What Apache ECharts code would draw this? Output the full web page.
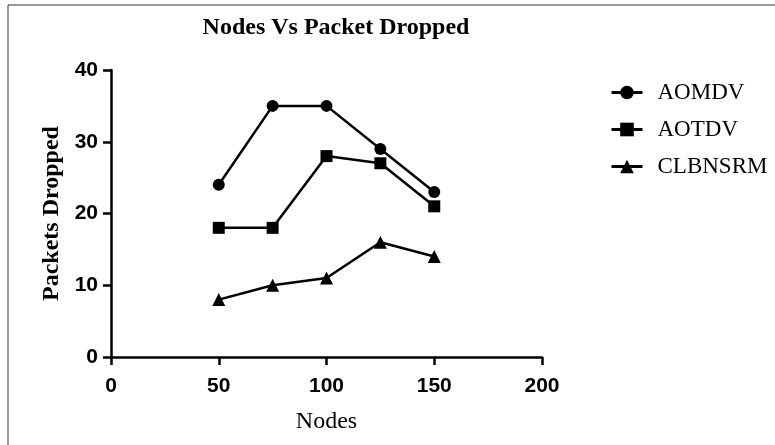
<!DOCTYPE html>
<html><head><meta charset="utf-8">
<script src="https://cdn.jsdelivr.net/npm/echarts@6/dist/echarts.min.js"></script>
<style>html,body{margin:0;padding:0;background:#fff}#c{width:775px;height:445px}</style>
</head><body><div id="c"></div>
<script>
const nodes = [50, 75, 100, 125, 150];
const aomdv = [24, 35, 35, 29, 23];
const aotdv = [18, 18, 28, 27, 21];
const clbnsrm = [8, 10, 11, 16, 14];
const seriesNames = ['AOMDV', 'AOTDV', 'CLBNSRM'];
const symbols = ['circle', 'rect', 'triangle'];
const dataSets = [aomdv, aotdv, clbnsrm];

const chart = echarts.init(document.getElementById('c'));
const serif = '"Liberation Serif", "Times New Roman", serif';
const sans = '"Liberation Sans", Arial, sans-serif';
chart.setOption({
  animation: false,
  title: { text: 'Nodes Vs Packet Dropped', left: 331, top: 11, textAlign: 'center',
    textStyle: { fontFamily: serif, fontWeight: 'bold', fontSize: 24, color: '#000' } },
  legend: {
    orient: 'vertical', left: 605, top: 76, itemGap: 14, itemWidth: 31, itemHeight: 17,
    lineStyle: { width: 3 },
    textStyle: { fontFamily: serif, fontSize: 23, color: '#000', padding: [0, 0, 0, 10] },
    data: seriesNames
  },
  grid: { left: 111, right: 233, top: 70, bottom: 88 },
  xAxis: {
    type: 'value', min: 0, max: 200, interval: 50,
    name: 'Nodes', nameLocation: 'middle', nameGap: 53,
    nameTextStyle: { fontFamily: serif, fontSize: 24, color: '#000' },
    axisLine: { lineStyle: { color: '#000', width: 2.5 } },
    axisTick: { length: 8, lineStyle: { color: '#000', width: 2.5 } },
    axisLabel: { fontFamily: sans, fontWeight: 'bold', fontSize: 21, color: '#000', margin: 19 },
    splitLine: { show: false }
  },
  yAxis: {
    type: 'value', min: 0, max: 40, interval: 10,
    name: 'Packets Dropped', nameLocation: 'middle', nameGap: 44,
    nameTextStyle: { fontFamily: serif, fontWeight: 'bold', fontSize: 24, color: '#000' },
    axisLine: { show: true, lineStyle: { color: '#000', width: 2.5 } },
    axisTick: { show: true, length: 8, lineStyle: { color: '#000', width: 2.5 } },
    axisLabel: { fontFamily: sans, fontWeight: 'bold', fontSize: 21, color: '#000', margin: 13 },
    splitLine: { show: false }
  },
  graphic: [
    { type: 'line', shape: { x1: 8, y1: 5, x2: 8, y2: 445 }, style: { stroke: '#333', lineWidth: 1 } },
    { type: 'line', shape: { x1: 8, y1: 5, x2: 775, y2: 5 }, style: { stroke: '#333', lineWidth: 1 } }
  ],
  series: seriesNames.map((n, i) => ({
    name: n, type: 'line',
    data: nodes.map((x, j) => [x, dataSets[i][j]]),
    symbol: symbols[i], symbolSize: i === 2 ? 13 : 12,
    lineStyle: { color: '#000', width: 2.5 },
    itemStyle: { color: '#000' }
  }))
});
</script></body></html>
